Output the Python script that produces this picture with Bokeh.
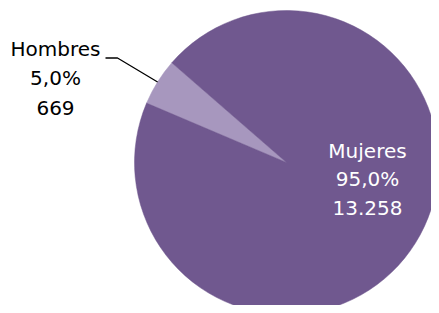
import math
from bokeh.plotting import figure
from bokeh.models import Range1d
from bokeh.core.properties import value
from bokeh.embed import file_html
from bokeh.resources import INLINE

# data
categories = ["Hombres", "Mujeres"]
counts = [669, 13258]
count_labels = ["669", "13.258"]
percents = [5.0, 95.0]
pct_labels = ["5,0%", "95,0%"]
colors = ["#A797BE", "#70588F"]

W, H = 431, 305
p = figure(width=W, height=H, output_backend="svg", toolbar_location=None,
           x_range=Range1d(0, W), y_range=Range1d(0, H), min_border=0)
p.axis.visible = False
p.grid.visible = False
p.outline_line_color = None
p.background_fill_color = "white"
p.border_fill_color = "white"

cx, cy, r = 286, 143, 152
start0 = 139.0
total = sum(percents)
angles = []
a = start0
for pc in percents:
    span = pc / total * 360.0
    angles.append((a, a + span))
    a += span

for (s, e), c in zip(angles, colors):
    p.wedge(x=[cx], y=[cy], radius=r, start_angle=math.radians(s), end_angle=math.radians(e),
            fill_color=c, line_color=c, line_width=0.5)

FONT = "DejaVu Sans"
# Hombres label (outside with leader)
mid = math.radians(sum(angles[0]) / 2)
ex, ey = cx + r * math.cos(mid), cy + r * math.sin(mid)
p.line(x=[105, 117, ex], y=[247.5, 247.5, ey], line_color="black", line_width=1.3)
p.text(x=[55], y=[227], text=[f"{categories[0]}\n{pct_labels[0]}\n{count_labels[0]}"],
       text_font=value(FONT), text_font_size="20px", text_color="black",
       text_align="center", text_baseline="middle", text_line_height=1.22)
# Mujeres label (inside)
p.text(x=[367], y=[126], text=[f"{categories[1]}\n{pct_labels[1]}\n{count_labels[1]}"],
       text_font=value(FONT), text_font_size="20px", text_color="white",
       text_align="center", text_baseline="middle", text_line_height=1.17)

open("out.html", "w").write(file_html(p, INLINE))
